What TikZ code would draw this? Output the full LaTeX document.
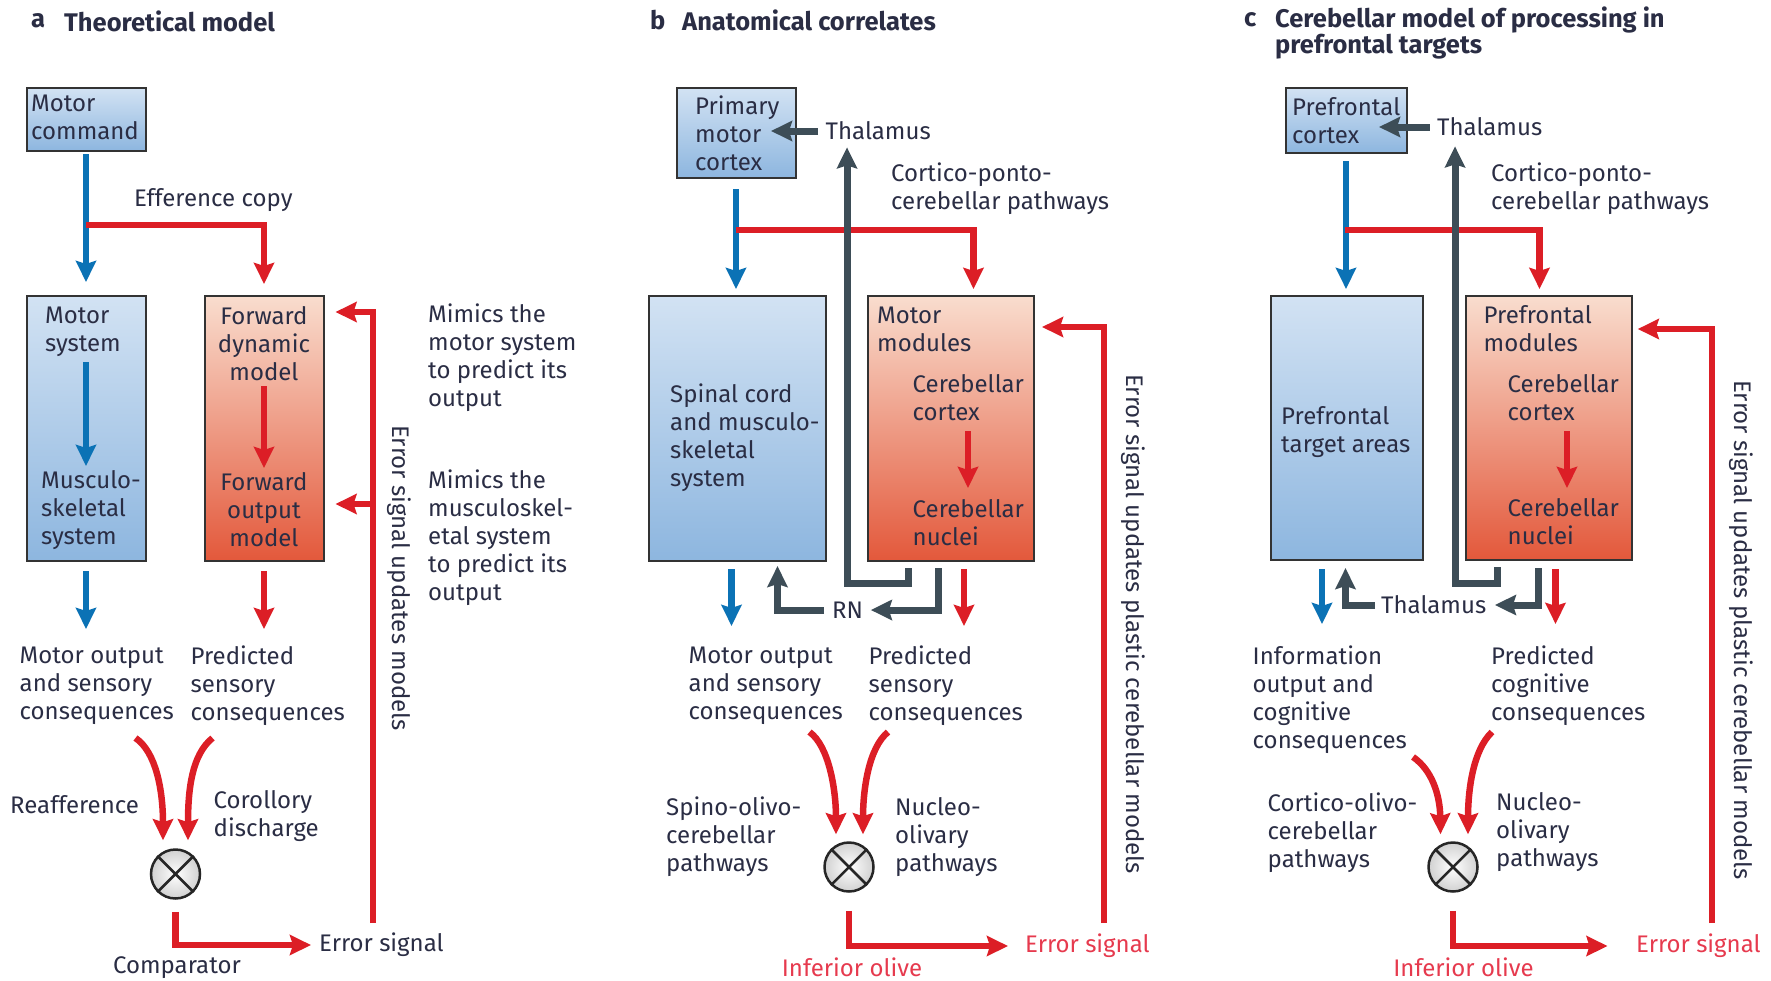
\documentclass[tikz,border=0pt]{standalone}
\usepackage{fontspec}
\setmainfont{Fira Sans}
\usetikzlibrary{arrows.meta}
\definecolor{cmInk}{HTML}{2A2D44}
\definecolor{cmBlue}{HTML}{0B72B5}
\definecolor{cmRed}{HTML}{DC1E26}
\definecolor{cmPink}{HTML}{E63A4E}
\definecolor{cmSlate}{HTML}{3D4D57}
\definecolor{cmFrame}{HTML}{333333}
\definecolor{cmBlueTop}{HTML}{D2E2F3}
\definecolor{cmBlueBot}{HTML}{8DB6DF}
\definecolor{cmRedTop}{HTML}{F9DDCE}
\definecolor{cmRedBot}{HTML}{E3583B}
\tikzset{
  cm diagram/.style={font=\fontsize{24}{28}\selectfont, text=cmInk,
    line join=miter},
  cm box/.style={draw=cmFrame, line width=2pt, inner sep=0pt},
  cm blue box/.style={cm box, top color=cmBlueTop, bottom color=cmBlueBot},
  cm red box/.style={cm box, top color=cmRedTop, bottom color=cmRedBot},
  cm text/.style={align=left, inner sep=0pt, anchor=west},
  cm centre/.style={align=center, inner sep=0pt},
  cm title/.style={font=\fontsize{25.5}{26}\selectfont\bfseries, align=left,
    inner sep=0pt, anchor=west},
  cm tip/.style={-{Stealth[length=21pt,width=20pt,inset=3pt]}},
  cm blue/.style={cm tip, draw=cmBlue, line width=6.5pt},
  cm red/.style={cm tip, draw=cmRed, line width=6.5pt},
  cm dark/.style={cm tip, draw=cmSlate, line width=7pt},
  cm comparator/.style={circle, draw=black!85, line width=2.5pt, inner sep=0pt,
    minimum size=49pt, inner color=white, outer color=black!18},
  cm cross/.style={draw=black!85, line width=2.5pt}
}

\begin{document}
\begin{tikzpicture}[cm diagram,x=1pt,y=-1pt]
\useasboundingbox (0,0) rectangle (1771,980);

% a: theoretical model
\node[cm title] (aLetter) at (31,21) {a};
\node[cm title] (aTitle) at (64,21) {Theoretical model};
\node[cm blue box, minimum width=119pt, minimum height=63pt] (mc) at (86,119.5) {};
\node[cm text] (mcText) at (31,117) {Motor\\command};
\node[cm blue box, minimum width=119pt, minimum height=265pt] (ms) at (86,428.5) {};
\node[cm red box, minimum width=119pt, minimum height=265pt] (fd) at (264,428.5) {};
\node[cm text] (msTop) at (45,332) {Motor\\system};
\node[cm text] (msBot) at (41,510) {Musculo-\\skeletal\\system};
\node[cm centre] (fdTop) at (264,344) {Forward\\dynamic\\model};
\node[cm centre] (fdBot) at (264,510) {Forward\\output\\model};
\node[cm text] (aEff) at (134,200) {Efference copy};
\node[cm text] (aMim1) at (428,358) {Mimics the\\motor system\\to predict its\\output};
\node[cm text] (aMim2) at (428,538) {Mimics the\\musculoskel-\\etal system\\to predict its\\output};
\node[cm centre, rotate=-90] (aUpd) at (399.5,578) {Error signal updates models};
\node[cm text] (aOut) at (19.5,686) {Motor output\\and sensory\\consequences};
\node[cm text] (aPred) at (190.5,686) {Predicted\\sensory\\consequences};
\node[cm text] (aReaf) at (10,805) {Reafference};
\node[cm text] (aCor) at (213.5,816) {Corollory\\discharge};
\node[cm comparator] (aCmp) at (175.5,874) {};
\draw[cm cross] (aCmp.north west) -- (aCmp.south east) (aCmp.north east) -- (aCmp.south west);
\node[cm text] (aErr) at (319,945) {Error signal};
\node[cm centre] (aCmpText) at (177,968) {Comparator};
\coordinate (aSplit) at (86,225);
\coordinate (aErrBot) at (373,923);
\coordinate (aCurveL) at (135.5,738);
\coordinate (aCurveR) at (212.5,738);
\coordinate (aBranch) at ([xshift=11pt,yshift=58pt]fd.south east);

\draw[cm blue] ([yshift=-2pt]mc.south) -- ([yshift=13pt]ms.north);
\draw[cm red] (aSplit) -| ([yshift=11pt]fd.north);
\draw[cm blue] ([yshift=-67pt]ms.north) -- ([yshift=96pt]ms.south);
\draw[cm red] ([yshift=-91pt]fd.north) -- ([yshift=94pt]fd.south);
\draw[cm blue] ([yshift=-9pt]ms.south) -- ++(0,58);
\draw[cm red] ([yshift=-9pt]fd.south) -- ++(0,58);
\draw[cm red] (aErrBot) |- ([xshift=11pt,yshift=-17pt]fd.north east);
\draw[cm red] (aErrBot |- aBranch) -- (aBranch);
\draw[cm red] (aCurveL) .. controls (156,752) and (163,790) .. ([xshift=-12.5pt,yshift=8pt]aCmp.north);
\draw[cm red] (aCurveR) .. controls (191.5,755) and (188,790) .. ([xshift=12.5pt,yshift=8pt]aCmp.north);
\draw[cm red] ([yshift=-12pt]aCmp.south) |- ([xshift=-8pt]aErr.west);

% b: anatomical correlates
\node[cm title] (bLetter) at (650,20) {b};
\node[cm title] (bTitle) at (682,20) {Anatomical correlates};
\node[cm blue box, minimum width=119pt, minimum height=90pt] (pmc) at (736,133) {};
\node[cm text] (pmcText) at (695,133) {Primary\\motor\\cortex};
\node[cm text] (bTh) at (825.5,131) {Thalamus};
\node[cm text] (bCpc) at (891,189) {Cortico-ponto-\\cerebellar pathways};
\node[cm blue box, minimum width=177pt, minimum height=265pt] (sc) at (737.5,428.5) {};
\node[cm red box, minimum width=166pt, minimum height=265pt] (mm) at (950.5,428.5) {};
\node[cm text] (scText) at (670,437.5) {Spinal cord\\and musculo-\\skeletal\\system};
\node[cm text] (mmTop) at (877,329) {Motor\\modules};
\node[cm text] (mmCtx) at (912.5,398) {Cerebellar\\cortex};
\node[cm text] (mmNuc) at (912.5,523) {Cerebellar\\nuclei};
\node[cm centre, rotate=-90] (bUpd) at (1133,624) {Error signal updates plastic cerebellar models};
\node[cm text] (bRN) at (832,610) {RN};
\node[cm text] (bOut) at (688.5,686) {Motor output\\and sensory\\consequences};
\node[cm text] (bPred) at (868.5,686) {Predicted\\sensory\\consequences};
\node[cm text] (bSpino) at (666,837) {Spino-olivo-\\cerebellar\\pathways};
\node[cm text] (bNucleo) at (895,837) {Nucleo-\\olivary\\pathways};
\node[cm comparator] (bCmp) at (849,867) {};
\draw[cm cross] (bCmp.north west) -- (bCmp.south east) (bCmp.north east) -- (bCmp.south west);
\node[cm text, text=cmPink] (bErr) at (1025,946) {Error signal};
\node[cm centre, text=cmPink] (bIO) at (852,967) {Inferior olive};
\coordinate (bSplit) at (736,230);
\coordinate (bErrBot) at (1104,923);
\coordinate (bCurveL) at (809.5,732);
\coordinate (bCurveR) at (888,732);

\draw[cm blue] ([yshift=-10pt]pmc.south) -- ([yshift=6pt]pmc.south |- sc.north);
\draw[cm red] (bSplit) -| ([xshift=23pt,yshift=6pt]mm.north);
\draw[cm dark] ([xshift=-42.5pt,yshift=-6pt]mm.south) -- ++(0,15) -| ([xshift=21.5pt,yshift=-7pt]bTh.south west);
\draw[cm dark] ([xshift=-7.5pt]bTh.west) -- ([xshift=-25.5pt]pmc.east |- bTh.west);
\draw[cm red] ([xshift=17.5pt,yshift=-136pt]mm.north) -- ([xshift=17.5pt,yshift=74pt]mm.south);
\draw[cm red] (bErrBot) |- ([xshift=7.5pt,yshift=-32pt]mm.north east);
\draw[cm blue] ([xshift=-6pt,yshift=-7pt]sc.south) -- ++(0,57);
\draw[cm dark] ([xshift=-8pt]bRN.west) -| ([xshift=40pt,yshift=-4pt]sc.south);
\draw[cm dark] ([xshift=-12.5pt,yshift=-6pt]mm.south) |- ([xshift=7.5pt]bRN.east);
\draw[cm red] ([xshift=13.5pt,yshift=-7pt]mm.south) -- ++(0,57);
\draw[cm red] (bCurveL) .. controls (829,746) and (836,790) .. ([xshift=-13pt,yshift=7pt]bCmp.north);
\draw[cm red] (bCurveR) .. controls (868.5,748) and (863,790) .. ([xshift=14pt,yshift=7pt]bCmp.north);
\draw[cm red] ([yshift=-18pt]bCmp.south) |- ([xshift=-17pt]bErr.west);

% c: prefrontal targets
\node[cm title] (cLetter) at (1244,20) {c};
\node[cm title] (cTitle) at (1275,32.5) {Cerebellar model of processing in\\prefrontal targets};
\node[cm blue box, minimum width=121pt, minimum height=65pt] (pfc) at (1346,120.5) {};
\node[cm text] (pfcText) at (1292,121) {Prefrontal\\cortex};
\node[cm text] (cTh) at (1437,127) {Thalamus};
\node[cm text] (cCpc) at (1491,189) {Cortico-ponto-\\cerebellar pathways};
\node[cm blue box, minimum width=152pt, minimum height=264pt] (pta) at (1346.5,428) {};
\node[cm red box, minimum width=166.5pt, minimum height=264pt] (pm) at (1549,428) {};
\node[cm text] (ptaText) at (1281,432) {Prefrontal\\target areas};
\node[cm text] (pmTop) at (1483.5,329) {Prefrontal\\modules};
\node[cm text] (pmCtx) at (1507.5,398) {Cerebellar\\cortex};
\node[cm text] (pmNuc) at (1507.5,522) {Cerebellar\\nuclei};
\node[cm centre, rotate=-90] (cUpd) at (1741.5,630) {Error signal updates plastic cerebellar models};
\node[cm text] (cTh2) at (1381,605) {Thalamus};
\node[cm text] (cOut) at (1252.5,700) {Information\\output and\\cognitive\\consequences};
\node[cm text] (cPred) at (1491,686) {Predicted\\cognitive\\consequences};
\node[cm text] (cCortico) at (1267.5,833) {Cortico-olivo-\\cerebellar\\pathways};
\node[cm text] (cNucleo) at (1496,832) {Nucleo-\\olivary\\pathways};
\node[cm comparator] (cCmp) at (1453,867) {};
\draw[cm cross] (cCmp.north west) -- (cCmp.south east) (cCmp.north east) -- (cCmp.south west);
\node[cm text, text=cmPink] (cErr) at (1636,946) {Error signal};
\node[cm centre, text=cmPink] (cIO) at (1463.5,967) {Inferior olive};
\coordinate (cSplit) at (1344.5,230);
\coordinate (cErrBot) at (1712,923);
\coordinate (cCurveL) at (1413,757);
\coordinate (cCurveR) at (1492,732);

\draw[cm blue] ([yshift=-7pt]pfc.south) -- ([yshift=6pt]pfc.south |- pta.north);
\draw[cm red] (cSplit) -| ([xshift=-9.5pt,yshift=6pt]pm.north);
\draw[cm dark] ([xshift=-51.5pt,yshift=-6pt]pm.south) -- ++(0,16) -| ([xshift=18pt,yshift=-10pt]cTh.south west);
\draw[cm dark] ([xshift=-7.5pt]cTh.west) -- ([xshift=-28.5pt]pfc.east |- cTh.west);
\draw[cm red] ([xshift=18pt,yshift=-136pt]pm.north) -- ([xshift=18pt,yshift=73pt]pm.south);
\draw[cm red] (cErrBot) |- ([xshift=4.5pt,yshift=-34pt]pm.north east);
\draw[cm blue] ([xshift=-24.5pt,yshift=-8pt]pta.south) -- ++(0,55);
\draw[cm dark] ([xshift=-6pt]cTh2.west) -| ([xshift=-1pt,yshift=-7pt]pta.south);
\draw[cm dark] ([xshift=-10.5pt,yshift=-7pt]pm.south) |- ([xshift=8.5pt]cTh2.east);
\draw[cm red] ([xshift=6.5pt,yshift=-8pt]pm.south) -- ++(0,55);
\draw[cm red] (cCurveL) .. controls (1432,770) and (1440,795) .. ([xshift=-12.5pt,yshift=7pt]cCmp.north);
\draw[cm red] (cCurveR) .. controls (1473,750) and (1468,790) .. ([xshift=15pt,yshift=7pt]cCmp.north);
\draw[cm red] ([yshift=-18pt]cCmp.south) |- ([xshift=-28.5pt]cErr.west);
\end{tikzpicture}
\end{document}
